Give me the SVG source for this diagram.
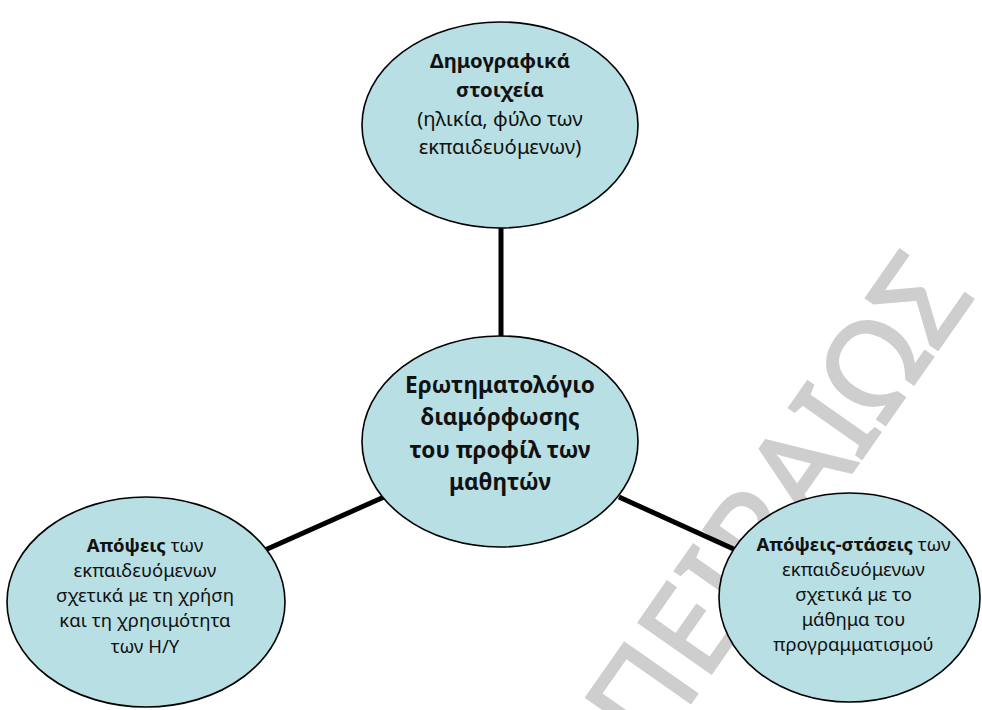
<svg xmlns="http://www.w3.org/2000/svg" width="982" height="710" viewBox="0 0 982 710">
  <style>
    .node { fill: #b8dfe3; stroke: #000; stroke-width: 1.6; }
    .edge { stroke: #000; stroke-width: 5; fill: none; }
    .t { font-family: "Noto Sans", "DejaVu Sans", sans-serif; fill: #111; text-anchor: middle; }
    .b { font-weight: bold; }
    .wm { font-family: "Noto Sans", "DejaVu Sans", sans-serif; fill: #cecece; stroke: #cecece; stroke-width: 2.5; font-size: 124px; letter-spacing: 1px; }
  </style>
  <rect width="982" height="710" fill="#fff"/>

  <!-- diagonal background watermark -->
  <text class="wm" transform="translate(652,758) rotate(-55)" x="0" y="0">ΠΕΙΡΑΙΩΣ</text>

  <g id="connectors">
    <line class="edge" x1="501" y1="228" x2="501" y2="337"/>
    <line class="edge" x1="265" y1="550" x2="384" y2="497"/>
    <line class="edge" x1="619" y1="497" x2="738" y2="551"/>
  </g>

  <g id="demographics">
    <ellipse class="node" cx="500" cy="125" rx="138" ry="103"/>
    <text class="t b" font-size="20.3" x="500" y="68">Δημογραφικά</text>
    <text class="t b" font-size="20.3" x="500" y="97">στοιχεία</text>
    <text class="t" font-size="20.3" x="500" y="126">(ηλικία, φύλο των</text>
    <text class="t" font-size="20.3" x="500" y="154">εκπαιδευόμενων)</text>
  </g>

  <g id="questionnaire">
    <ellipse class="node" cx="500" cy="441.5" rx="138" ry="105.5"/>
    <text class="t b" font-size="22.6" x="500" y="393">Ερωτηματολόγιο</text>
    <text class="t b" font-size="22.6" x="500" y="425">διαμόρφωσης</text>
    <text class="t b" font-size="22.6" x="500" y="458">του προφίλ των</text>
    <text class="t b" font-size="22.6" x="500" y="490">μαθητών</text>
  </g>

  <g id="computer-views">
    <ellipse class="node" cx="146" cy="602" rx="139" ry="105"/>
    <text class="t" font-size="18.5" x="145" y="552"><tspan class="b">Απόψεις</tspan> των</text>
    <text class="t" font-size="18.5" x="145" y="577">εκπαιδευόμενων</text>
    <text class="t" font-size="18.5" x="145" y="602">σχετικά με τη χρήση</text>
    <text class="t" font-size="18.5" x="145" y="627">και τη χρησιμότητα</text>
    <text class="t" font-size="18.5" x="145" y="653">των Η/Υ</text>
  </g>

  <g id="programming-attitudes">
    <ellipse class="node" cx="849.5" cy="597.5" rx="130.5" ry="104.5"/>
    <text class="t" font-size="18.5" x="853.5" y="551"><tspan class="b">Απόψεις-στάσεις</tspan> των</text>
    <text class="t" font-size="18.5" x="853.5" y="576">εκπαιδευόμενων</text>
    <text class="t" font-size="18.5" x="853.5" y="601">σχετικά με το</text>
    <text class="t" font-size="18.5" x="853.5" y="626">μάθημα του</text>
    <text class="t" font-size="18.5" x="853.5" y="651">προγραμματισμού</text>
  </g>
</svg>
